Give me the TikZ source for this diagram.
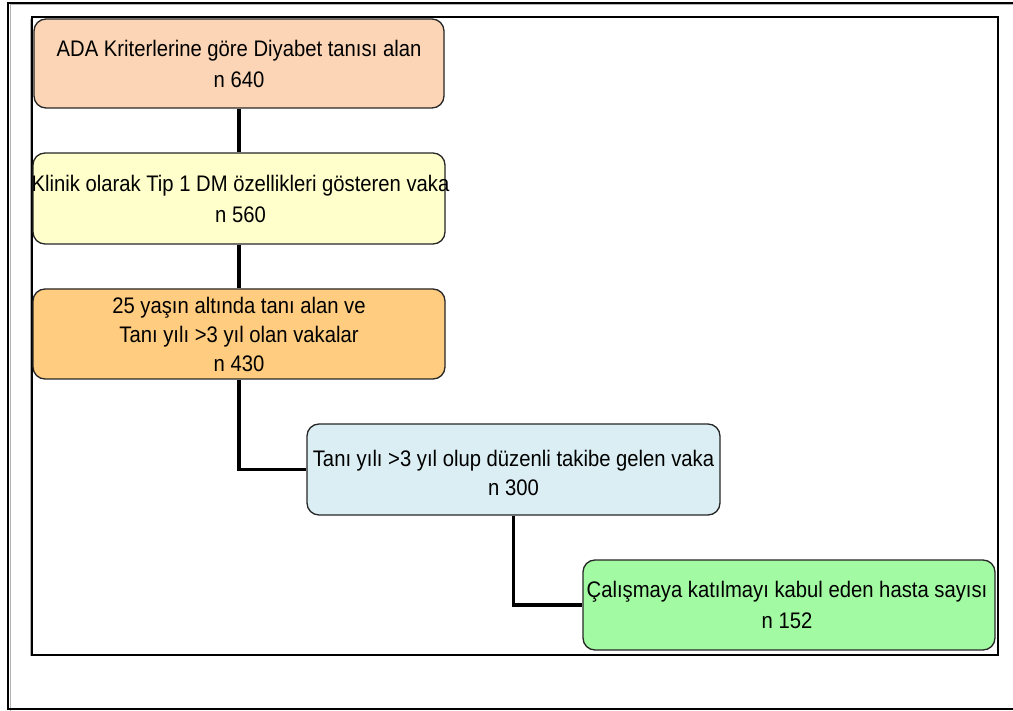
\documentclass[tikz,border=0pt]{standalone}
\usepackage{fontspec}
\setmainfont{Liberation Sans}[FakeStretch=0.9]
\definecolor{cpeach}{RGB}{251,213,181}
\definecolor{cyellow}{RGB}{255,255,204}
\definecolor{corange}{RGB}{255,204,128}
\definecolor{cblue}{RGB}{218,238,243}
\definecolor{cgreen}{RGB}{162,250,162}
\tikzset{
  box/.style={draw=black!85, line width=1.3pt, rounded corners=12pt, inner sep=0pt},
  lbl/.style={inner sep=0pt, align=center, font=\fontsize{22.5}{31}\selectfont},
  conn/.style={line width=3.2pt, black},
  frame/.style={draw=black, line width=2.5pt}
}
\begin{document}
\begin{tikzpicture}[x=1pt, y=-1pt]
\useasboundingbox (0,0) rectangle (1013,711);
% outer frame
\draw[gray!60, line width=1pt] (1020,5) -- (10,5) -- (10,711) -- (1020,711);
\draw[black, line width=1.8pt] (1020,3) -- (8,3) -- (8,709) -- (1020,709);
% inner frame
\draw[gray!60, line width=1pt] (30.3,19) -- (30.3,656);
\draw[frame] (32,17) rectangle (998,655);

\node[box, fill=cpeach, minimum width=410pt, minimum height=89pt] (b1) at (239,63.5) {};
\node[box, fill=cyellow, minimum width=412pt, minimum height=91pt] (b2) at (239,198.5) {};
\node[box, fill=corange, minimum width=412pt, minimum height=90pt] (b3) at (239,334) {};
\node[box, fill=cblue, minimum width=413pt, minimum height=91pt] (b4) at (513.5,469.5) {};
\node[box, fill=cgreen, minimum width=412pt, minimum height=90pt] (b5) at (789,605) {};

\node[lbl] (t1) at (b1.center) {ADA Kriterlerine göre Diyabet tanısı alan\\n 640};
\node[lbl] (t2) at ([xshift=1.5pt]b2.center) {Klinik olarak Tip 1 DM özellikleri gösteren vaka\\n 560};
\node[lbl, font=\fontsize{22.5}{29}\selectfont] (t3) at (b3.center) {25 yaşın altında tanı alan ve\\Tanı yılı >3 yıl olan vakalar\\n 430};
\node[lbl, font=\fontsize{22.5}{29}\selectfont] (t4) at ([yshift=-3pt]b4.center) {Tanı yılı >3 yıl olup düzenli takibe gelen vaka\\n 300};
\node[lbl] (t5) at ([xshift=-2pt]b5.center) {Çalışmaya katılmayı kabul eden hasta sayısı\\n 152};

\draw[conn] (b1.south) -- (b2.north);
\draw[conn] (b2.south) -- (b3.north);
\draw[conn] (b3.south) |- (b4.west);
\draw[conn] (b4.south) |- (b5.west);
\end{tikzpicture}
\end{document}
